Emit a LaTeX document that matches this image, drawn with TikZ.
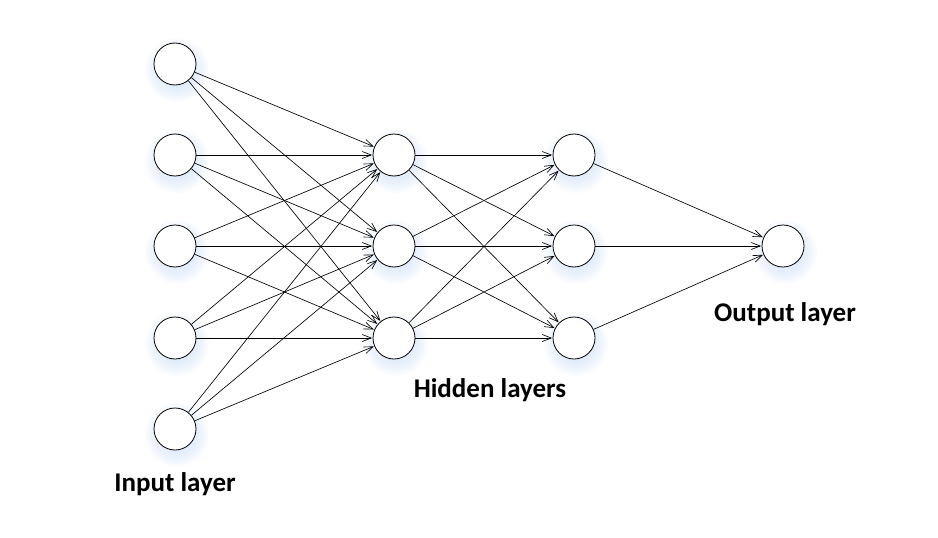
\documentclass[tikz,border=0pt]{standalone}
\usepackage{fontspec}
\setmainfont{Carlito}
\usetikzlibrary{arrows.meta}
\definecolor{glow}{RGB}{190,212,245}
\begin{document}
\begin{tikzpicture}[x=1pt,y=-1pt,
  neuron/.style={circle,draw,line width=0.8pt,fill=white,minimum size=42pt,inner sep=0pt},
  halo/.style={fill=glow,fill opacity=0.07},
  conn/.style={line width=0.65pt,-{Straight Barb[length=9pt,width=7pt,line width=0.65pt]},shorten >=0.5pt},
  lbl/.style={font=\fontsize{27}{30}\selectfont\bfseries}]
\useasboundingbox (0,0) rectangle (938,538);
% positions
\foreach \i/\y in {1/64,2/155,3/246,4/338,5/429} \coordinate (pi\i) at (175,\y);
\foreach \i/\y in {1/155,2/246,3/338} {\coordinate (pa\i) at (394,\y); \coordinate (pb\i) at (574,\y);}
\coordinate (po1) at (783,246);
% shadows (below the circles)
\foreach \n in {pi1,pi2,pi3,pi4,pi5,pa1,pa2,pa3,pb1,pb2,pb3,po1}
  \foreach \r in {18,20,...,32} \fill[halo] ([xshift=2pt,yshift=-6pt]\n) circle (\r);
% nodes
\foreach \i in {1,...,5} \node[neuron] (i\i) at (pi\i) {};
\foreach \i in {1,2,3} {\node[neuron] (a\i) at (pa\i) {}; \node[neuron] (b\i) at (pb\i) {};}
\node[neuron] (o1) at (po1) {};
% connections
\foreach \i in {1,...,5} \foreach \j in {1,2,3} \draw[conn] (i\i) -- (a\j);
\foreach \i in {1,2,3} \foreach \j in {1,2,3} \draw[conn] (a\i) -- (b\j);
\foreach \i in {1,2,3} \draw[conn] (b\i) -- (o1);
% labels
\node[lbl] (l1) at (175,484) {Input layer};
\node[lbl] (l2) at (490,390) {Hidden layers};
\node[lbl] (l3) at (785,314) {Output layer};
\end{tikzpicture}
\end{document}
